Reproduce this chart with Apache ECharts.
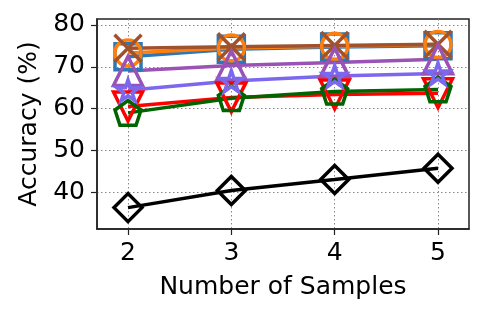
<!DOCTYPE html>
<html><head><meta charset="utf-8">
<script src="https://cdn.jsdelivr.net/npm/echarts@6/dist/echarts.min.js"></script>
<style>html,body{margin:0;padding:0;background:#fff}#c{width:488px;height:318px}</style>
</head><body><div id="c"></div>
<script>
const samples = [2, 3, 4, 5];
const xTicks = [2, 3, 4, 5];
const yTicks = [40, 50, 60, 70, 80];
const sSquare = [72.4, 74.2, 74.7, 75.0];
const sCircle = [73.3, 74.5, 74.9, 75.3];
const sCross = [74.4, 74.8, 75.1, 75.4];
const sTriUp = [69.0, 70.3, 71.0, 71.8];
const sTriDown = [60.5, 62.7, 63.4, 63.7];
const sPentagon = [59.0, 62.5, 64.1, 64.6];
const sStar = [64.4, 66.6, 67.8, 68.4];
const sDiamond = [36.4, 40.5, 43.1, 45.8];

const FONT = 'DejaVu Sans';
const P_TRI_DOWN = 'path://M0,0L10,0L5,10Z';
const P_PENT = 'path://M9.51,0L19.02,6.91L15.39,18.09L3.63,18.09L0,6.91Z';
const P_STAR = 'path://M9.51,0L11.755,6.91L19.02,6.91L13.14,11.18L15.39,18.09L9.51,13.82L3.63,18.09L5.88,11.18L0,6.91L7.265,6.91Z';
const P_X = 'path://M0,0L10,10M10,0L0,10';

function ser(data, color, symbol, size, keep) {
  return {
    type: 'line',
    data: samples.map((x, i) => [x, data[i]]),
    symbol: symbol,
    symbolSize: size,
    symbolKeepAspect: !!keep,
    showAllSymbol: true,
    lineStyle: { color: color, width: 3.5 },
    itemStyle: { color: 'rgba(0,0,0,0)', borderColor: color, borderWidth: 3.5 },
    emphasis: { disabled: true },
    animation: false,
    clip: false
  };
}

const chart = echarts.init(document.getElementById('c'), null, { renderer: 'canvas' });
const gridLine = { show: true, lineStyle: { color: '#888', type: [1.5, 2.5], width: 1 } };
chart.setOption({
  animation: false,
  grid: { left: 97, right: 19, top: 19, bottom: 89, show: true, borderColor: '#222', borderWidth: 1.5, backgroundColor: 'transparent' },
  xAxis: {
    type: 'value', min: 1.7, max: 5.3,
    name: 'Number of Samples', nameLocation: 'middle', nameGap: 46,
    nameTextStyle: { fontFamily: FONT, fontSize: 25, color: '#000' },
    axisLine: { show: true, lineStyle: { color: '#222', width: 1.5 } },
    axisTick: { show: true, length: 6, lineStyle: { color: '#222', width: 1.2 }, customValues: xTicks },
    axisLabel: { fontFamily: FONT, fontSize: 25, color: '#000', margin: 12, customValues: xTicks },
    splitLine: gridLine
  },
  yAxis: {
    type: 'value', min: 31.3, max: 81.4,
    name: 'Accuracy (%)', nameLocation: 'middle', nameGap: 55, nameRotate: 90,
    nameTextStyle: { fontFamily: FONT, fontSize: 25, color: '#000' },
    axisLine: { show: true, lineStyle: { color: '#222', width: 1.5 } },
    axisTick: { show: true, length: 6, lineStyle: { color: '#222', width: 1.2 }, customValues: yTicks },
    axisLabel: { fontFamily: FONT, fontSize: 25, color: '#000', margin: 12, customValues: yTicks },
    splitLine: gridLine
  },
  series: [
    ser(sSquare, '#2a78b8', 'rect', 26),
    ser(sCircle, '#ff7f0e', 'circle', 26),
    ser(sCross, '#a0522d', P_X, 27),
    ser(sTriUp, '#9a52b5', 'triangle', 29),
    ser(sTriDown, '#ff0000', P_TRI_DOWN, 29),
    ser(sPentagon, '#006400', P_PENT, 26, true),
    ser(sStar, '#7b68ee', P_STAR, 22, true),
    ser(sDiamond, '#000000', 'diamond', 28)
  ]
});
</script>
</body></html>
